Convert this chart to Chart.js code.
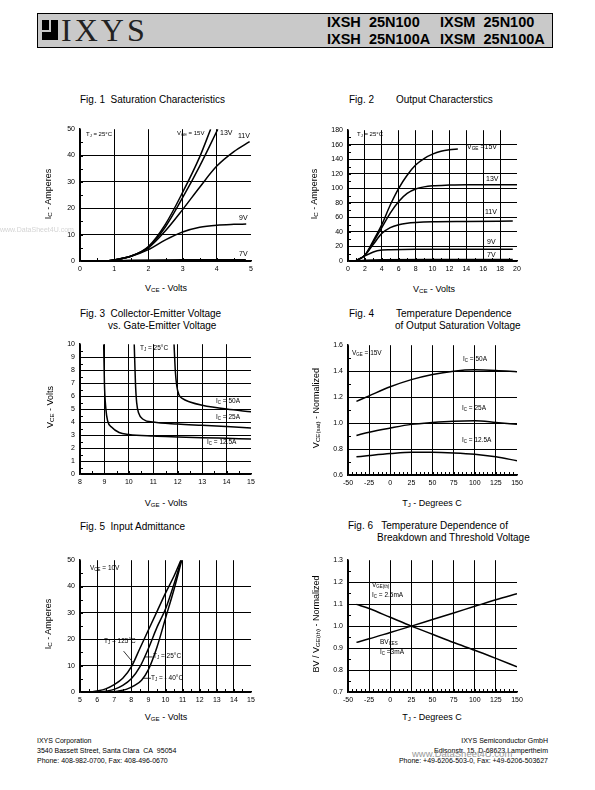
<!DOCTYPE html>
<html>
<head>
<meta charset="utf-8">
<script src="https://cdn.jsdelivr.net/npm/chart.js@4.4.1/dist/chart.umd.min.js"></script>
<style>
  body { margin: 0; background: #fff; }
  #page { position: relative; width: 595px; height: 790px; overflow: hidden; font-family: "Liberation Sans", Arial, sans-serif; color: #000; }
  #page canvas { position: absolute; }
  .t { position: absolute; white-space: nowrap; line-height: 1; }
  .t sub { font-size: 68%; vertical-align: -0.3em; line-height: 0; }
  #hdr { position: absolute; left: 37px; top: 13px; width: 514px; height: 33px; background: #c9c9c9; border: 1px solid #000; }
  .blk { position: absolute; background: #000; }
</style>
</head>
<body>
<div id="page">
  <div id="hdr"></div>
  <div class="blk" style="left:42px;top:20px;width:7px;height:10px"></div>
  <div class="blk" style="left:51px;top:20px;width:7px;height:12px"></div>
  <div class="blk" style="left:42px;top:32px;width:16px;height:8px"></div>
  <canvas id="fig1"></canvas>
  <canvas id="fig2"></canvas>
  <canvas id="fig3"></canvas>
  <canvas id="fig4"></canvas>
  <canvas id="fig5"></canvas>
  <canvas id="fig6"></canvas>
</div>
<script>
// ---- data ----
// Fig 1: Ic (A) vs Vce (V) for several Vge
const fig1XTicks = [0, 1, 2, 3, 4, 5];
const fig1YTicks = [0, 10, 20, 30, 40, 50];
const fig1Vge15 = [[0.75,0],[1,0.4],[1.5,1.9],[2,5.5],[2.5,14],[3,26],[3.5,39.5],[3.82,50]];
const fig1Vge13 = [[0.75,0],[1,0.4],[1.5,1.9],[2,5.3],[2.5,13],[3,24],[3.5,36],[4.03,50]];
const fig1Vge11 = [[0.75,0],[1,0.4],[1.5,1.9],[2,5],[2.5,11.5],[3,19.5],[3.5,28],[4,36],[4.5,41.5],[4.96,45.3]];
const fig1Vge9  = [[0.8,0],[1,0.4],[1.5,1.8],[2,4.3],[2.5,8],[3,11],[3.5,12.8],[4,13.6],[4.5,13.9],[4.86,14]];
const fig1Vge7  = [[0.8,0],[1.5,0.3],[3,0.5],[4.85,0.5]];

// Fig 2: output characteristics
const fig2XTicks = [0, 2, 4, 6, 8, 10, 12, 14, 16, 18, 20];
const fig2YTicks = [0, 20, 40, 60, 80, 100, 120, 140, 160, 180];
const fig2Vge15 = [[0.9,0],[2,8],[3,28],[4,50],[5,77],[6,100],[7,118],[8,132],[9,141],[10,147],[11,151],[12,153],[13,154]];
const fig2Vge13 = [[0.9,0],[2,8],[3,26],[4,46],[5,66],[6,82],[7,93],[8,99],[9,102],[10,103.5],[12,104.5],[14,105],[17,105],[20,105]];
const fig2Vge11 = [[0.9,0],[2,8],[3,23],[4,38],[5,46],[6,50],[7,52],[8,53],[10,54],[14,54.5],[19.5,55]];
const fig2Vge9  = [[0.9,0],[2,7],[3,12.5],[4,15],[5,15.5],[8,16],[12,16],[19.5,16]];
const fig2Vge7  = [[0.9,0],[2,1],[4,1.8],[10,2],[19.5,2]];

// Fig 3: Vce vs Vge
const fig3XTicks = [8, 9, 10, 11, 12, 13, 14, 15];
const fig3YTicks = [0, 1, 2, 3, 4, 5, 6, 7, 8, 9, 10];
const fig3Ic50  = [[11.85,10],[11.9,8],[11.96,6.8],[12.05,6.1],[12.2,5.8],[12.5,5.55],[13,5.3],[14,5.0],[15,4.8]];
const fig3Ic25  = [[10.22,10],[10.27,7],[10.32,5.5],[10.4,4.7],[10.6,4.2],[11,4.0],[12,3.85],[13,3.75],[14,3.65],[15,3.55]];
const fig3Ic125 = [[8.97,10],[9.0,7],[9.06,5],[9.13,4.1],[9.3,3.6],[9.6,3.2],[10,3.05],[11,2.93],[12,2.86],[13,2.8],[14,2.75],[15,2.7]];

// Fig 4: normalized Vce(sat) vs Tj
const fig4XTicks = [-50, -25, 0, 25, 50, 75, 100, 125, 150];
const fig4YTicks = [0.6, 0.8, 1.0, 1.2, 1.4, 1.6];
const fig4Ic50  = [[-40,1.167],[-25,1.21],[0,1.28],[25,1.335],[50,1.375],[75,1.4],[100,1.41],[125,1.405],[150,1.395]];
const fig4Ic25  = [[-40,0.905],[-25,0.93],[0,0.962],[25,0.99],[50,1.005],[75,1.015],[100,1.018],[125,1.005],[150,0.99]];
const fig4Ic125 = [[-40,0.74],[-25,0.75],[0,0.765],[25,0.775],[50,0.775],[75,0.77],[100,0.76],[125,0.74],[150,0.71]];

// Fig 5: input admittance
const fig5XTicks = [5, 6, 7, 8, 9, 10, 11, 12, 13, 14, 15];
const fig5YTicks = [0, 10, 20, 30, 40, 50];
const fig5Tj125 = [[5.6,0],[6,0.4],[6.5,1.2],[7,2.8],[7.5,5.2],[8,9.5],[8.5,16.5],[9,23.5],[9.5,30.5],[10,37.5],[10.5,44],[10.9,50]];
const fig5Tj25  = [[6.2,0],[6.5,0.3],[7,1],[7.5,2.5],[8,5],[8.5,9.5],[9,16.5],[9.5,24.5],[10,31.5],[10.5,41],[10.92,50]];
const fig5TjM40 = [[6.8,0],[7.2,0.3],[7.7,1],[8.2,2.5],[8.6,4.5],[9,8.5],[9.5,17],[10,28],[10.5,39],[10.95,50]];
const fig5Pointers = [[[7.55,15.5],[8.1,11.2]], [[9.25,13.3],[8.8,13.3]], [[9.15,5.2],[8.7,5.2]]];

// Fig 6: breakdown and threshold voltage vs Tj
const fig6XTicks = [-50, -25, 0, 25, 50, 75, 100, 125, 150];
const fig6YTicks = [0.7, 0.8, 0.9, 1.0, 1.1, 1.2, 1.3];
const fig6VgeTh = [[-40,0.926],[-25,0.942],[0,0.971],[25,1.0],[50,1.03],[75,1.06],[100,1.09],[125,1.12],[150,1.147]];
const fig6BvCes = [[-40,1.099],[-25,1.08],[0,1.04],[25,1.0],[50,0.963],[75,0.925],[100,0.89],[125,0.853],[150,0.815]];

// ---- helpers ----
const page = document.getElementById('page');
const FONT = '"Liberation Sans", Arial, sans-serif';

function put(html, x, y, size, anchor, extra) {
  const d = document.createElement('div');
  d.className = 't';
  d.innerHTML = html;
  d.style.left = x + 'px';
  d.style.top = y + 'px';
  d.style.fontSize = size + 'px';
  const tf = { l: 'translate(0,-50%)', c: 'translate(-50%,-50%)', r: 'translate(-100%,-50%)', v: 'translate(-50%,-50%) rotate(-90deg)' };
  d.style.transform = tf[anchor || 'l'];
  if (extra) Object.assign(d.style, extra);
  page.appendChild(d);
}

const minorTicks = {
  id: 'minorTicks',
  beforeDatasetsDraw(chart, args, opts) {
    const { ctx, chartArea: a, scales: { x, y } } = chart;
    ctx.save();
    ctx.strokeStyle = '#000';
    ctx.lineWidth = 1;
    ctx.beginPath();
    if (opts.x) {
      for (let v = x.min + opts.x; v < x.max - 1e-9; v += opts.x) {
        const px = Math.round(x.getPixelForValue(v)) + 0.5;
        ctx.moveTo(px, a.bottom); ctx.lineTo(px, a.bottom - 3);
      }
    }
    if (opts.y) {
      for (let v = y.min + opts.y; v < y.max - 1e-9; v += opts.y) {
        const py = Math.round(y.getPixelForValue(v)) + 0.5;
        ctx.moveTo(a.left, py); ctx.lineTo(a.left + 3, py);
      }
    }
    ctx.stroke();
    ctx.restore();
  }
};

const pointers = {
  id: 'pointers',
  afterDatasetsDraw(chart, args, opts) {
    if (!opts.lines) return;
    const { ctx, scales: { x, y } } = chart;
    ctx.save();
    ctx.strokeStyle = '#000';
    ctx.lineWidth = 0.8;
    opts.lines.forEach(function (ln) {
      ctx.beginPath();
      ctx.moveTo(x.getPixelForValue(ln[0][0]), y.getPixelForValue(ln[0][1]));
      ctx.lineTo(x.getPixelForValue(ln[1][0]), y.getPixelForValue(ln[1][1]));
      ctx.stroke();
    });
    ctx.restore();
  }
};

function plot(id, area, xTicks, yTicks, series, minor, yDigits, lines) {
  const L = 34, T = 6, R = 10, B = 18;
  const cv = document.getElementById(id);
  const w = area[2] - area[0] + L + R, h = area[3] - area[1] + T + B;
  cv.width = w; cv.height = h;
  cv.style.width = w + 'px'; cv.style.height = h + 'px';
  cv.style.left = (area[0] - L) + 'px';
  cv.style.top = (area[1] - T) + 'px';

  const xMin = xTicks[0], xMax = xTicks[xTicks.length - 1];
  const yMin = yTicks[0], yMax = yTicks[yTicks.length - 1];
  const gridCol = (max) => (c) => (c.tick && Math.abs(c.tick.value - max) < 1e-9) ? 'rgba(0,0,0,0)' : '#000';

  new Chart(cv, {
    type: 'line',
    data: {
      datasets: series.map(function (s) {
        return {
          data: s.map(p => ({ x: p[0], y: p[1] })),
          borderColor: '#000',
          borderWidth: 1.5,
          pointRadius: 0,
          cubicInterpolationMode: 'monotone',
          fill: false
        };
      })
    },
    options: {
      responsive: false,
      animation: false,
      devicePixelRatio: 1,
      layout: { padding: { left: 0, top: T, right: R, bottom: 0 } },
      plugins: { legend: { display: false }, tooltip: { enabled: false }, minorTicks: minor, pointers: { lines: lines } },
      scales: {
        x: {
          type: 'linear', min: xMin, max: xMax,
          afterBuildTicks: s => { s.ticks = xTicks.map(v => ({ value: v })); },
          afterFit: s => { s.height = B; },
          grid: { color: gridCol(xMax), lineWidth: 1, drawTicks: false },
          border: { color: '#000', width: 1.5 },
          ticks: { padding: 4, color: '#000', font: { family: FONT, size: 7 }, maxRotation: 0, autoSkip: false, callback: v => String(v) }
        },
        y: {
          type: 'linear', min: yMin, max: yMax,
          afterBuildTicks: s => { s.ticks = yTicks.map(v => ({ value: v })); },
          afterFit: s => { s.width = L; },
          grid: { color: gridCol(yMax), lineWidth: 1, drawTicks: false },
          border: { color: '#000', width: 1.5 },
          ticks: { padding: 5, color: '#000', font: { family: FONT, size: 7 }, autoSkip: false, callback: v => yDigits ? v.toFixed(yDigits) : String(v) }
        }
      }
    },
    plugins: [minorTicks, pointers]
  });
}

plot('fig1', [80, 126, 251, 261], fig1XTicks, fig1YTicks, [fig1Vge15, fig1Vge13, fig1Vge11, fig1Vge9, fig1Vge7], { x: 0.5, y: 5 });
plot('fig2', [348, 127, 517, 261], fig2XTicks, fig2YTicks, [fig2Vge15, fig2Vge13, fig2Vge11, fig2Vge9, fig2Vge7], { x: 1, y: 10 });
plot('fig3', [80, 341, 251, 474], fig3XTicks, fig3YTicks, [fig3Ic50, fig3Ic25, fig3Ic125], { x: 0.5, y: 0.5 });
plot('fig4', [348, 342, 517, 475], fig4XTicks, fig4YTicks, [fig4Ic50, fig4Ic25, fig4Ic125], { x: 5, y: 0.1 }, 1);
plot('fig5', [80, 557, 251, 692], fig5XTicks, fig5YTicks, [fig5Tj125, fig5Tj25, fig5TjM40], { x: 0.5, y: 5 }, 0, fig5Pointers);
plot('fig6', [348, 557, 517, 692], fig6XTicks, fig6YTicks, [fig6VgeTh, fig6BvCes], { x: 5, y: 0.05 }, 1);

// ---- header ----
put('IXYS', 61, 30, 32, 'l', { fontFamily: '"Liberation Serif", "DejaVu Serif", serif', color: '#222', letterSpacing: '3px' });
put('IXSH&nbsp; 25N100', 327, 22, 14.5, 'l', { fontWeight: 'bold' });
put('IXSM&nbsp; 25N100', 440, 22, 14.5, 'l', { fontWeight: 'bold' });
put('IXSH&nbsp; 25N100A', 327, 39, 14.5, 'l', { fontWeight: 'bold' });
put('IXSM&nbsp; 25N100A', 440, 39, 14.5, 'l', { fontWeight: 'bold' });

// ---- figure titles ----
put('Fig. 1&nbsp; Saturation Characteristics', 80, 100, 10);
put('Fig. 2', 349, 100, 10);
put('Output Characterstics', 396, 100, 10);
put('Fig. 3&nbsp; Collector-Emitter Voltage', 80, 314, 10);
put('vs. Gate-Emitter Voltage', 108, 326, 10);
put('Fig. 4', 349, 314, 10);
put('Temperature Dependence', 396, 314, 10);
put('of Output Saturation Voltage', 395, 326, 10);
put('Fig. 5&nbsp; Input Admittance', 80, 527, 10);
put('Fig. 6&nbsp;&nbsp; Temperature Dependence of', 348, 526, 10);
put('Breakdown and Threshold Voltage', 377, 538, 10);

// ---- axis titles ----
put('V<sub>CE</sub> - Volts', 166, 288, 9, 'c');
put('I<sub>C</sub> - Amperes', 48, 194, 9, 'v');
put('V<sub>CE</sub> - Volts', 434, 289, 9, 'c');
put('I<sub>C</sub> - Amperes', 314, 194, 9, 'v');
put('V<sub>GE</sub> - Volts', 166, 503, 9, 'c');
put('V<sub>CE</sub> - Volts', 50, 407, 9, 'v');
put('T<sub>J</sub> - Degrees C', 432, 503, 9, 'c');
put('V<sub>CE(sat)</sub> - Normalized', 316, 408, 9, 'v');
put('V<sub>GE</sub> - Volts', 166, 717, 9, 'c');
put('I<sub>C</sub> - Amperes', 48, 624, 9, 'v');
put('T<sub>J</sub> - Degrees C', 432, 717, 9, 'c');
put('BV / V<sub>GE(th)</sub> - Normalized', 316, 624, 9, 'v');

// ---- curve annotations ----
put('T<sub>J</sub> = 25&deg;C', 86, 134, 6);
put('V<sub>GE</sub> = 15V', 177, 133, 6);
put('13V', 220, 132, 7);
put('11V', 238, 135, 7);
put('9V', 239, 217, 7);
put('7V', 239, 253, 7);

put('T<sub>J</sub> = 25&deg;C', 357, 134, 6);
put('V<sub>GE</sub> =15V', 467, 146, 7);
put('13V', 486, 178, 7);
put('11V', 485, 211, 7);
put('9V', 487, 241, 7);
put('7V', 487, 254, 7);

put('T<sub>J</sub> = 25&deg;C', 140, 348, 6.5);
put('I<sub>C</sub> = 50A', 216, 401, 6.5);
put('I<sub>C</sub> = 25A', 216, 417, 6.5);
put('I<sub>C</sub> = 12.5A', 207, 442, 6.5);

put('V<sub>GE</sub> = 15V', 352, 353, 6.5);
put('I<sub>C</sub> = 50A', 463, 359, 6.5);
put('I<sub>C</sub> = 25A', 462, 408, 6.5);
put('I<sub>C</sub> = 12.5A', 462, 440, 6.5);

put('V<sub>CE</sub> = 10V', 90, 568, 6.5);
put('T<sub>J</sub> = 125&deg;C', 104, 641, 6.5);
put('T<sub>J</sub> = 25&deg;C', 153, 656, 6.5);
put('T<sub>J</sub> = - 40&deg;C', 151, 678, 6.5);

put('V<sub>GE(th)</sub>', 372, 585, 6.5);
put('I<sub>C</sub> = 2.5mA', 372, 595, 6.5);
put('BV<sub>CES</sub>', 380, 642, 6.5);
put('I<sub>C</sub> =3mA', 380, 652, 6.5);

// ---- watermark and footer ----
put('www.DataSheet4U.com', 0, 229, 7, 'l', { color: '#d4d4d4' });
put('IXYS Corporation', 37, 740, 7);
put('3540 Bassett Street, Santa Clara&nbsp; CA&nbsp; 95054', 37, 750, 7);
put('Phone: 408-982-0700, Fax: 408-496-0670', 37, 760, 7);
put('IXYS Semiconductor GmbH', 548, 740, 7, 'r');
put('Edisonstr. 15, D-68623 Lampertheim', 548, 750, 7, 'r');
put('Phone: +49-6206-503-0, Fax: +49-6206-503627', 548, 760, 7, 'r');
put('www.DataSheet4U.com', 412, 754, 9.5, 'l', { color: '#9a9a9a' });
</script>
</body>
</html>
